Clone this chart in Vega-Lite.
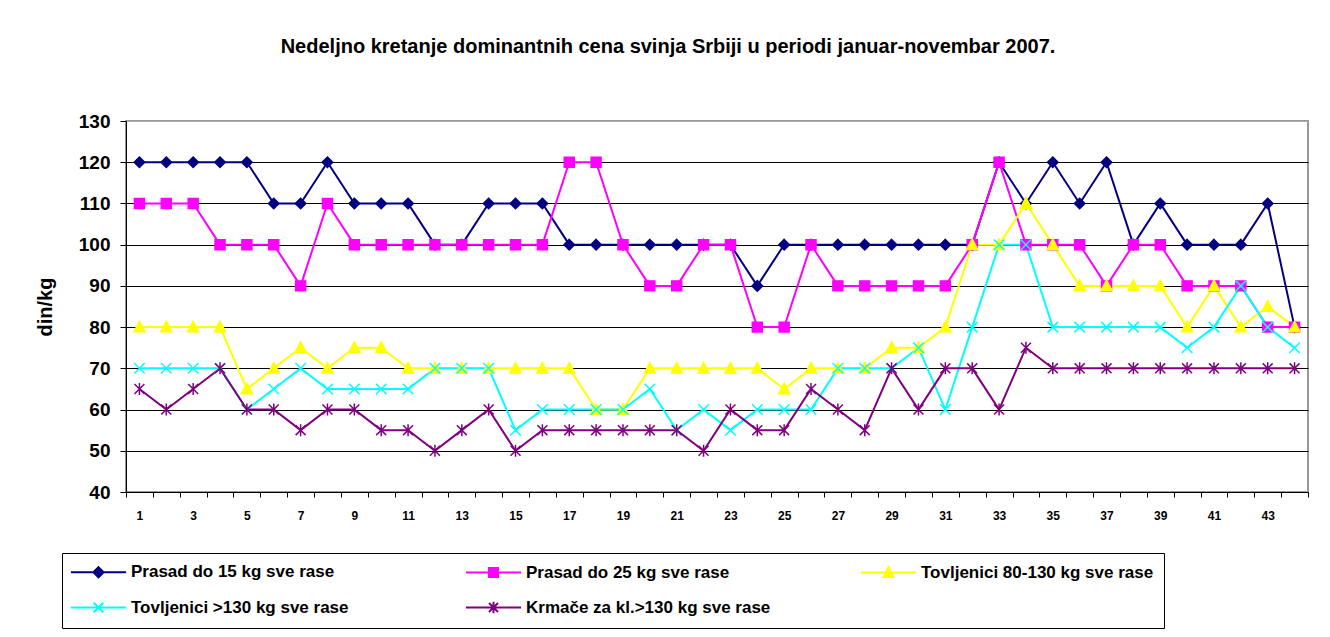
{
  "$schema": "https://vega.github.io/schema/vega-lite/v6.json",
  "width": 1182,
  "height": 371,
  "autosize": {"type": "none"},
  "padding": {"left": 126, "top": 121, "right": 22, "bottom": 145},
  "background": "white",
  "title": {
    "text": "Nedeljno kretanje dominantnih cena svinja Srbiji  u periodi januar-novembar  2007.",
    "fontSize": 20,
    "font": "Liberation Sans",
    "fontWeight": "bold",
    "color": "#000",
    "anchor": "middle",
    "dx": -49,
    "offset": 55
  },
  "config": {
    "view": {"stroke": "#999", "strokeWidth": 2},
    "font": "Liberation Sans"
  },
  "data": {
    "values": [
      {"week": 1, "series": "Prasad do 15 kg sve rase", "price": 120},
      {"week": 2, "series": "Prasad do 15 kg sve rase", "price": 120},
      {"week": 3, "series": "Prasad do 15 kg sve rase", "price": 120},
      {"week": 4, "series": "Prasad do 15 kg sve rase", "price": 120},
      {"week": 5, "series": "Prasad do 15 kg sve rase", "price": 120},
      {"week": 6, "series": "Prasad do 15 kg sve rase", "price": 110},
      {"week": 7, "series": "Prasad do 15 kg sve rase", "price": 110},
      {"week": 8, "series": "Prasad do 15 kg sve rase", "price": 120},
      {"week": 9, "series": "Prasad do 15 kg sve rase", "price": 110},
      {"week": 10, "series": "Prasad do 15 kg sve rase", "price": 110},
      {"week": 11, "series": "Prasad do 15 kg sve rase", "price": 110},
      {"week": 12, "series": "Prasad do 15 kg sve rase", "price": 100},
      {"week": 13, "series": "Prasad do 15 kg sve rase", "price": 100},
      {"week": 14, "series": "Prasad do 15 kg sve rase", "price": 110},
      {"week": 15, "series": "Prasad do 15 kg sve rase", "price": 110},
      {"week": 16, "series": "Prasad do 15 kg sve rase", "price": 110},
      {"week": 17, "series": "Prasad do 15 kg sve rase", "price": 100},
      {"week": 18, "series": "Prasad do 15 kg sve rase", "price": 100},
      {"week": 19, "series": "Prasad do 15 kg sve rase", "price": 100},
      {"week": 20, "series": "Prasad do 15 kg sve rase", "price": 100},
      {"week": 21, "series": "Prasad do 15 kg sve rase", "price": 100},
      {"week": 22, "series": "Prasad do 15 kg sve rase", "price": 100},
      {"week": 23, "series": "Prasad do 15 kg sve rase", "price": 100},
      {"week": 24, "series": "Prasad do 15 kg sve rase", "price": 90},
      {"week": 25, "series": "Prasad do 15 kg sve rase", "price": 100},
      {"week": 26, "series": "Prasad do 15 kg sve rase", "price": 100},
      {"week": 27, "series": "Prasad do 15 kg sve rase", "price": 100},
      {"week": 28, "series": "Prasad do 15 kg sve rase", "price": 100},
      {"week": 29, "series": "Prasad do 15 kg sve rase", "price": 100},
      {"week": 30, "series": "Prasad do 15 kg sve rase", "price": 100},
      {"week": 31, "series": "Prasad do 15 kg sve rase", "price": 100},
      {"week": 32, "series": "Prasad do 15 kg sve rase", "price": 100},
      {"week": 33, "series": "Prasad do 15 kg sve rase", "price": 120},
      {"week": 34, "series": "Prasad do 15 kg sve rase", "price": 110},
      {"week": 35, "series": "Prasad do 15 kg sve rase", "price": 120},
      {"week": 36, "series": "Prasad do 15 kg sve rase", "price": 110},
      {"week": 37, "series": "Prasad do 15 kg sve rase", "price": 120},
      {"week": 38, "series": "Prasad do 15 kg sve rase", "price": 100},
      {"week": 39, "series": "Prasad do 15 kg sve rase", "price": 110},
      {"week": 40, "series": "Prasad do 15 kg sve rase", "price": 100},
      {"week": 41, "series": "Prasad do 15 kg sve rase", "price": 100},
      {"week": 42, "series": "Prasad do 15 kg sve rase", "price": 100},
      {"week": 43, "series": "Prasad do 15 kg sve rase", "price": 110},
      {"week": 44, "series": "Prasad do 15 kg sve rase", "price": 80},
      {"week": 1, "series": "Prasad do 25 kg sve rase", "price": 110},
      {"week": 2, "series": "Prasad do 25 kg sve rase", "price": 110},
      {"week": 3, "series": "Prasad do 25 kg sve rase", "price": 110},
      {"week": 4, "series": "Prasad do 25 kg sve rase", "price": 100},
      {"week": 5, "series": "Prasad do 25 kg sve rase", "price": 100},
      {"week": 6, "series": "Prasad do 25 kg sve rase", "price": 100},
      {"week": 7, "series": "Prasad do 25 kg sve rase", "price": 90},
      {"week": 8, "series": "Prasad do 25 kg sve rase", "price": 110},
      {"week": 9, "series": "Prasad do 25 kg sve rase", "price": 100},
      {"week": 10, "series": "Prasad do 25 kg sve rase", "price": 100},
      {"week": 11, "series": "Prasad do 25 kg sve rase", "price": 100},
      {"week": 12, "series": "Prasad do 25 kg sve rase", "price": 100},
      {"week": 13, "series": "Prasad do 25 kg sve rase", "price": 100},
      {"week": 14, "series": "Prasad do 25 kg sve rase", "price": 100},
      {"week": 15, "series": "Prasad do 25 kg sve rase", "price": 100},
      {"week": 16, "series": "Prasad do 25 kg sve rase", "price": 100},
      {"week": 17, "series": "Prasad do 25 kg sve rase", "price": 120},
      {"week": 18, "series": "Prasad do 25 kg sve rase", "price": 120},
      {"week": 19, "series": "Prasad do 25 kg sve rase", "price": 100},
      {"week": 20, "series": "Prasad do 25 kg sve rase", "price": 90},
      {"week": 21, "series": "Prasad do 25 kg sve rase", "price": 90},
      {"week": 22, "series": "Prasad do 25 kg sve rase", "price": 100},
      {"week": 23, "series": "Prasad do 25 kg sve rase", "price": 100},
      {"week": 24, "series": "Prasad do 25 kg sve rase", "price": 80},
      {"week": 25, "series": "Prasad do 25 kg sve rase", "price": 80},
      {"week": 26, "series": "Prasad do 25 kg sve rase", "price": 100},
      {"week": 27, "series": "Prasad do 25 kg sve rase", "price": 90},
      {"week": 28, "series": "Prasad do 25 kg sve rase", "price": 90},
      {"week": 29, "series": "Prasad do 25 kg sve rase", "price": 90},
      {"week": 30, "series": "Prasad do 25 kg sve rase", "price": 90},
      {"week": 31, "series": "Prasad do 25 kg sve rase", "price": 90},
      {"week": 32, "series": "Prasad do 25 kg sve rase", "price": 100},
      {"week": 33, "series": "Prasad do 25 kg sve rase", "price": 120},
      {"week": 34, "series": "Prasad do 25 kg sve rase", "price": 100},
      {"week": 35, "series": "Prasad do 25 kg sve rase", "price": 100},
      {"week": 36, "series": "Prasad do 25 kg sve rase", "price": 100},
      {"week": 37, "series": "Prasad do 25 kg sve rase", "price": 90},
      {"week": 38, "series": "Prasad do 25 kg sve rase", "price": 100},
      {"week": 39, "series": "Prasad do 25 kg sve rase", "price": 100},
      {"week": 40, "series": "Prasad do 25 kg sve rase", "price": 90},
      {"week": 41, "series": "Prasad do 25 kg sve rase", "price": 90},
      {"week": 42, "series": "Prasad do 25 kg sve rase", "price": 90},
      {"week": 43, "series": "Prasad do 25 kg sve rase", "price": 80},
      {"week": 44, "series": "Prasad do 25 kg sve rase", "price": 80},
      {"week": 1, "series": "Tovljenici 80-130 kg sve rase", "price": 80},
      {"week": 2, "series": "Tovljenici 80-130 kg sve rase", "price": 80},
      {"week": 3, "series": "Tovljenici 80-130 kg sve rase", "price": 80},
      {"week": 4, "series": "Tovljenici 80-130 kg sve rase", "price": 80},
      {"week": 5, "series": "Tovljenici 80-130 kg sve rase", "price": 65},
      {"week": 6, "series": "Tovljenici 80-130 kg sve rase", "price": 70},
      {"week": 7, "series": "Tovljenici 80-130 kg sve rase", "price": 75},
      {"week": 8, "series": "Tovljenici 80-130 kg sve rase", "price": 70},
      {"week": 9, "series": "Tovljenici 80-130 kg sve rase", "price": 75},
      {"week": 10, "series": "Tovljenici 80-130 kg sve rase", "price": 75},
      {"week": 11, "series": "Tovljenici 80-130 kg sve rase", "price": 70},
      {"week": 12, "series": "Tovljenici 80-130 kg sve rase", "price": 70},
      {"week": 13, "series": "Tovljenici 80-130 kg sve rase", "price": 70},
      {"week": 14, "series": "Tovljenici 80-130 kg sve rase", "price": 70},
      {"week": 15, "series": "Tovljenici 80-130 kg sve rase", "price": 70},
      {"week": 16, "series": "Tovljenici 80-130 kg sve rase", "price": 70},
      {"week": 17, "series": "Tovljenici 80-130 kg sve rase", "price": 70},
      {"week": 18, "series": "Tovljenici 80-130 kg sve rase", "price": 60},
      {"week": 19, "series": "Tovljenici 80-130 kg sve rase", "price": 60},
      {"week": 20, "series": "Tovljenici 80-130 kg sve rase", "price": 70},
      {"week": 21, "series": "Tovljenici 80-130 kg sve rase", "price": 70},
      {"week": 22, "series": "Tovljenici 80-130 kg sve rase", "price": 70},
      {"week": 23, "series": "Tovljenici 80-130 kg sve rase", "price": 70},
      {"week": 24, "series": "Tovljenici 80-130 kg sve rase", "price": 70},
      {"week": 25, "series": "Tovljenici 80-130 kg sve rase", "price": 65},
      {"week": 26, "series": "Tovljenici 80-130 kg sve rase", "price": 70},
      {"week": 27, "series": "Tovljenici 80-130 kg sve rase", "price": 70},
      {"week": 28, "series": "Tovljenici 80-130 kg sve rase", "price": 70},
      {"week": 29, "series": "Tovljenici 80-130 kg sve rase", "price": 75},
      {"week": 30, "series": "Tovljenici 80-130 kg sve rase", "price": 75},
      {"week": 31, "series": "Tovljenici 80-130 kg sve rase", "price": 80},
      {"week": 32, "series": "Tovljenici 80-130 kg sve rase", "price": 100},
      {"week": 33, "series": "Tovljenici 80-130 kg sve rase", "price": 100},
      {"week": 34, "series": "Tovljenici 80-130 kg sve rase", "price": 110},
      {"week": 35, "series": "Tovljenici 80-130 kg sve rase", "price": 100},
      {"week": 36, "series": "Tovljenici 80-130 kg sve rase", "price": 90},
      {"week": 37, "series": "Tovljenici 80-130 kg sve rase", "price": 90},
      {"week": 38, "series": "Tovljenici 80-130 kg sve rase", "price": 90},
      {"week": 39, "series": "Tovljenici 80-130 kg sve rase", "price": 90},
      {"week": 40, "series": "Tovljenici 80-130 kg sve rase", "price": 80},
      {"week": 41, "series": "Tovljenici 80-130 kg sve rase", "price": 90},
      {"week": 42, "series": "Tovljenici 80-130 kg sve rase", "price": 80},
      {"week": 43, "series": "Tovljenici 80-130 kg sve rase", "price": 85},
      {"week": 44, "series": "Tovljenici 80-130 kg sve rase", "price": 80},
      {"week": 1, "series": "Tovljenici >130 kg sve rase", "price": 70},
      {"week": 2, "series": "Tovljenici >130 kg sve rase", "price": 70},
      {"week": 3, "series": "Tovljenici >130 kg sve rase", "price": 70},
      {"week": 4, "series": "Tovljenici >130 kg sve rase", "price": 70},
      {"week": 5, "series": "Tovljenici >130 kg sve rase", "price": 60},
      {"week": 6, "series": "Tovljenici >130 kg sve rase", "price": 65},
      {"week": 7, "series": "Tovljenici >130 kg sve rase", "price": 70},
      {"week": 8, "series": "Tovljenici >130 kg sve rase", "price": 65},
      {"week": 9, "series": "Tovljenici >130 kg sve rase", "price": 65},
      {"week": 10, "series": "Tovljenici >130 kg sve rase", "price": 65},
      {"week": 11, "series": "Tovljenici >130 kg sve rase", "price": 65},
      {"week": 12, "series": "Tovljenici >130 kg sve rase", "price": 70},
      {"week": 13, "series": "Tovljenici >130 kg sve rase", "price": 70},
      {"week": 14, "series": "Tovljenici >130 kg sve rase", "price": 70},
      {"week": 15, "series": "Tovljenici >130 kg sve rase", "price": 55},
      {"week": 16, "series": "Tovljenici >130 kg sve rase", "price": 60},
      {"week": 17, "series": "Tovljenici >130 kg sve rase", "price": 60},
      {"week": 18, "series": "Tovljenici >130 kg sve rase", "price": 60},
      {"week": 19, "series": "Tovljenici >130 kg sve rase", "price": 60},
      {"week": 20, "series": "Tovljenici >130 kg sve rase", "price": 65},
      {"week": 21, "series": "Tovljenici >130 kg sve rase", "price": 55},
      {"week": 22, "series": "Tovljenici >130 kg sve rase", "price": 60},
      {"week": 23, "series": "Tovljenici >130 kg sve rase", "price": 55},
      {"week": 24, "series": "Tovljenici >130 kg sve rase", "price": 60},
      {"week": 25, "series": "Tovljenici >130 kg sve rase", "price": 60},
      {"week": 26, "series": "Tovljenici >130 kg sve rase", "price": 60},
      {"week": 27, "series": "Tovljenici >130 kg sve rase", "price": 70},
      {"week": 28, "series": "Tovljenici >130 kg sve rase", "price": 70},
      {"week": 29, "series": "Tovljenici >130 kg sve rase", "price": 70},
      {"week": 30, "series": "Tovljenici >130 kg sve rase", "price": 75},
      {"week": 31, "series": "Tovljenici >130 kg sve rase", "price": 60},
      {"week": 32, "series": "Tovljenici >130 kg sve rase", "price": 80},
      {"week": 33, "series": "Tovljenici >130 kg sve rase", "price": 100},
      {"week": 34, "series": "Tovljenici >130 kg sve rase", "price": 100},
      {"week": 35, "series": "Tovljenici >130 kg sve rase", "price": 80},
      {"week": 36, "series": "Tovljenici >130 kg sve rase", "price": 80},
      {"week": 37, "series": "Tovljenici >130 kg sve rase", "price": 80},
      {"week": 38, "series": "Tovljenici >130 kg sve rase", "price": 80},
      {"week": 39, "series": "Tovljenici >130 kg sve rase", "price": 80},
      {"week": 40, "series": "Tovljenici >130 kg sve rase", "price": 75},
      {"week": 41, "series": "Tovljenici >130 kg sve rase", "price": 80},
      {"week": 42, "series": "Tovljenici >130 kg sve rase", "price": 90},
      {"week": 43, "series": "Tovljenici >130 kg sve rase", "price": 80},
      {"week": 44, "series": "Tovljenici >130 kg sve rase", "price": 75},
      {"week": 1, "series": "Krmače za kl.>130 kg sve rase", "price": 65},
      {"week": 2, "series": "Krmače za kl.>130 kg sve rase", "price": 60},
      {"week": 3, "series": "Krmače za kl.>130 kg sve rase", "price": 65},
      {"week": 4, "series": "Krmače za kl.>130 kg sve rase", "price": 70},
      {"week": 5, "series": "Krmače za kl.>130 kg sve rase", "price": 60},
      {"week": 6, "series": "Krmače za kl.>130 kg sve rase", "price": 60},
      {"week": 7, "series": "Krmače za kl.>130 kg sve rase", "price": 55},
      {"week": 8, "series": "Krmače za kl.>130 kg sve rase", "price": 60},
      {"week": 9, "series": "Krmače za kl.>130 kg sve rase", "price": 60},
      {"week": 10, "series": "Krmače za kl.>130 kg sve rase", "price": 55},
      {"week": 11, "series": "Krmače za kl.>130 kg sve rase", "price": 55},
      {"week": 12, "series": "Krmače za kl.>130 kg sve rase", "price": 50},
      {"week": 13, "series": "Krmače za kl.>130 kg sve rase", "price": 55},
      {"week": 14, "series": "Krmače za kl.>130 kg sve rase", "price": 60},
      {"week": 15, "series": "Krmače za kl.>130 kg sve rase", "price": 50},
      {"week": 16, "series": "Krmače za kl.>130 kg sve rase", "price": 55},
      {"week": 17, "series": "Krmače za kl.>130 kg sve rase", "price": 55},
      {"week": 18, "series": "Krmače za kl.>130 kg sve rase", "price": 55},
      {"week": 19, "series": "Krmače za kl.>130 kg sve rase", "price": 55},
      {"week": 20, "series": "Krmače za kl.>130 kg sve rase", "price": 55},
      {"week": 21, "series": "Krmače za kl.>130 kg sve rase", "price": 55},
      {"week": 22, "series": "Krmače za kl.>130 kg sve rase", "price": 50},
      {"week": 23, "series": "Krmače za kl.>130 kg sve rase", "price": 60},
      {"week": 24, "series": "Krmače za kl.>130 kg sve rase", "price": 55},
      {"week": 25, "series": "Krmače za kl.>130 kg sve rase", "price": 55},
      {"week": 26, "series": "Krmače za kl.>130 kg sve rase", "price": 65},
      {"week": 27, "series": "Krmače za kl.>130 kg sve rase", "price": 60},
      {"week": 28, "series": "Krmače za kl.>130 kg sve rase", "price": 55},
      {"week": 29, "series": "Krmače za kl.>130 kg sve rase", "price": 70},
      {"week": 30, "series": "Krmače za kl.>130 kg sve rase", "price": 60},
      {"week": 31, "series": "Krmače za kl.>130 kg sve rase", "price": 70},
      {"week": 32, "series": "Krmače za kl.>130 kg sve rase", "price": 70},
      {"week": 33, "series": "Krmače za kl.>130 kg sve rase", "price": 60},
      {"week": 34, "series": "Krmače za kl.>130 kg sve rase", "price": 75},
      {"week": 35, "series": "Krmače za kl.>130 kg sve rase", "price": 70},
      {"week": 36, "series": "Krmače za kl.>130 kg sve rase", "price": 70},
      {"week": 37, "series": "Krmače za kl.>130 kg sve rase", "price": 70},
      {"week": 38, "series": "Krmače za kl.>130 kg sve rase", "price": 70},
      {"week": 39, "series": "Krmače za kl.>130 kg sve rase", "price": 70},
      {"week": 40, "series": "Krmače za kl.>130 kg sve rase", "price": 70},
      {"week": 41, "series": "Krmače za kl.>130 kg sve rase", "price": 70},
      {"week": 42, "series": "Krmače za kl.>130 kg sve rase", "price": 70},
      {"week": 43, "series": "Krmače za kl.>130 kg sve rase", "price": 70},
      {"week": 44, "series": "Krmače za kl.>130 kg sve rase", "price": 70}
    ]
  },
  "encoding": {
    "x": {
      "field": "week",
      "type": "ordinal",
      "scale": {"type": "band", "paddingInner": 0, "paddingOuter": 0},
      "axis": {
        "title": null,
        "labelAngle": 0,
        "tickBand": "extent",
        "labelExpr": "datum.value % 2 == 1 ? datum.label : ''",
        "labelOverlap": false,
        "labelFontSize": 12,
        "labelFontWeight": "bold",
        "labelColor": "#000",
        "labelPadding": 13,
        "tickSize": 5,
        "tickColor": "#000",
        "domainColor": "#000",
        "grid": false
      }
    },
    "y": {
      "field": "price",
      "type": "quantitative",
      "scale": {"domain": [40, 130], "nice": false, "zero": false},
      "axis": {
        "title": "din/kg",
        "values": [40, 50, 60, 70, 80, 90, 100, 110, 120, 130],
        "grid": true,
        "gridColor": {"condition": {"test": "datum.value == 130", "value": "#aaaaaa"}, "value": "#000"},
        "gridOpacity": 1,
        "labelFontSize": 19,
        "labelFontWeight": "bold",
        "labelColor": "#000",
        "labelPadding": 10,
        "tickSize": 6,
        "tickColor": "#000",
        "domainColor": "#000",
        "titleFontSize": 20,
        "titleFontWeight": "bold",
        "titleColor": "#000",
        "titlePadding": 23
      }
    }
  },
  "layer": [
    {
      "mark": {"type": "line", "strokeWidth": 2},
      "encoding": {
        "color": {
          "field": "series",
          "type": "nominal",
          "scale": {
            "domain": ["Prasad do 15 kg sve rase", "Prasad do 25 kg sve rase", "Tovljenici 80-130 kg sve rase", "Tovljenici >130 kg sve rase", "Krmače za kl.>130 kg sve rase"],
            "range": ["#000080", "#FF00FF", "#FFFF00", "#00FFFF", "#800080"]
          },
          "legend": {
            "orient": "none",
            "legendX": -64,
            "legendY": 432,
            "columns": 3,
            "direction": "horizontal",
            "gridAlign": "all",
            "title": null,
            "labelFontSize": 17,
            "labelFontWeight": "bold",
            "labelColor": "#000",
            "labelLimit": 700,
            "labelOffset": 24,
            "columnPadding": 85,
            "rowPadding": 15,
            "symbolSize": 144,
            "symbolOffset": 18,
            "symbolStrokeWidth": 2,
            "strokeColor": "#000",
            "padding": 10,
            "symbolLimit": 0,
            "encode": {
              "symbols": {
                "update": {
                  "shape": {"signal": "datum.value == 'Prasad do 15 kg sve rase' ? 'M-4.6,0H4.6M0,-0.85L0.85,0L0,0.85L-0.85,0Z' : datum.value == 'Prasad do 25 kg sve rase' ? 'M-4.6,0H4.6M-0.75,-0.75H0.75V0.75H-0.75Z' : datum.value == 'Tovljenici 80-130 kg sve rase' ? 'M-4.6,0H4.6M0,-0.9L0.85,0.75H-0.85Z' : datum.value == 'Tovljenici >130 kg sve rase' ? 'M-4.6,0H4.6M-0.8,-0.8L0.8,0.8M0.8,-0.8L-0.8,0.8' : 'M-4.6,0H4.6M-0.75,-0.75L0.75,0.75M0.75,-0.75L-0.75,0.75M0,-0.95L0,0.95'"},
                  "strokeWidth": {"value": 2}
                }
              }
            }
          }
        }
      }
    },
    {
      "mark": {"type": "point", "filled": true, "size": 110, "strokeWidth": 1.5, "opacity": 1},
      "encoding": {
        "color": {"field": "series", "type": "nominal", "legend": null},
        "stroke": {
          "field": "series",
          "type": "nominal",
          "legend": null,
          "scale": {
            "domain": ["Krmače za kl.>130 kg sve rase", "Tovljenici >130 kg sve rase", "Tovljenici 80-130 kg sve rase", "Prasad do 25 kg sve rase", "Prasad do 15 kg sve rase"],
            "range": ["#800080", "#00FFFF", "#FFFF00", "#FF00FF", "#000080"]
          }
        },
        "shape": {
          "field": "series",
          "type": "nominal",
          "legend": null,
          "scale": {
            "domain": ["Krmače za kl.>130 kg sve rase", "Tovljenici >130 kg sve rase", "Tovljenici 80-130 kg sve rase", "Prasad do 25 kg sve rase", "Prasad do 15 kg sve rase"],
            "range": ["M-0.95,-0.95L0.95,0.95M0.95,-0.95L-0.95,0.95M0,-1.15L0,1.15", "M-1,-1L1,1M1,-1L-1,1", "M0,-1.1L1.05,0.9H-1.05Z", "M-0.95,-0.95H0.95V0.95H-0.95Z", "M0,-1L1,0L0,1L-1,0Z"]
          }
        }
      }
    }
  ]
}
